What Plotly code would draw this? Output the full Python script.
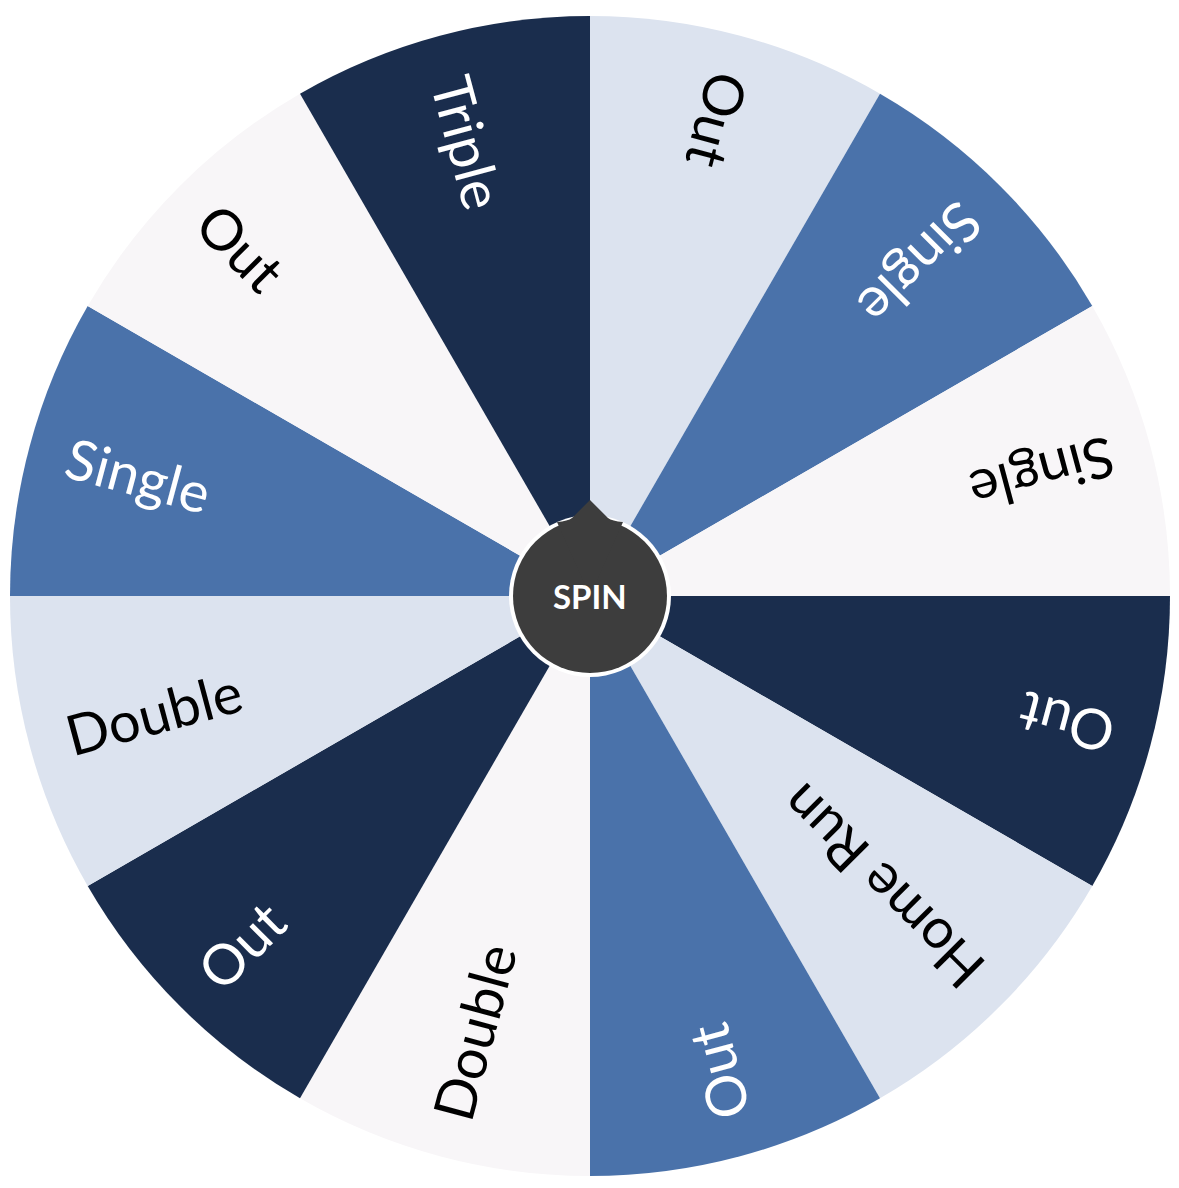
import math
import plotly.graph_objects as go

# the page body keeps its default 8px margin, so the figure is drawn 8px in
PAGE_W, PAGE_H, BODY = 1179, 1188, 8
W, H = PAGE_W - 2 * BODY, PAGE_H - 2 * BODY
cx, cy, R = 590 - BODY, 596 - BODY, 580      # wheel centre (px in figure) and radius

# slices clockwise from 12 o'clock, all the same size
outcomes = ["Out", "Single", "Single", "Out", "Home Run", "Out",
            "Double", "Out", "Double", "Single", "Out", "Triple"]
weights = [1, 1, 1, 1, 1, 1, 1, 1, 1, 1, 1, 1]
slice_colors = ["#dce3ef", "#4a72aa", "#f8f6f8", "#1a2d4d", "#dce3ef", "#4a72aa",
                "#f8f6f8", "#1a2d4d", "#dce3ef", "#4a72aa", "#f8f6f8", "#1a2d4d"]
text_on = {"#dce3ef": "black", "#f8f6f8": "black", "#4a72aa": "white", "#1a2d4d": "white"}

FONT = "Lato"
FSIZE = 56
# rough Lato regular advance widths (em) so labels can start at the rim
LATO_W = {"O": 0.78, "u": 0.55, "t": 0.35, "S": 0.52, "i": 0.24, "n": 0.55,
          "g": 0.51, "l": 0.24, "e": 0.52, "H": 0.75, "o": 0.56, "m": 0.83,
          "R": 0.61, "D": 0.73, "b": 0.56, "T": 0.58, "r": 0.37, "p": 0.56, " ": 0.19}


def text_width(s):
    return sum(LATO_W.get(ch, 0.55) for ch in s) * FSIZE


fig = go.Figure()
fig.add_trace(go.Pie(
    values=weights,
    marker=dict(colors=slice_colors, line=dict(width=0)),
    sort=False,
    direction="clockwise",
    rotation=0,
    textinfo="none",
    hovertext=outcomes,
    hoverinfo="text",
    showlegend=False,
    domain=dict(x=[(cx - R) / W, (cx + R) / W],
                y=[1 - (cy + R) / H, 1 - (cy - R) / H]),
))

# labels run from the rim towards the hub
step = 360 / sum(weights)
start = 0
for name, w, col in zip(outcomes, weights, slice_colors):
    theta = start + w * step / 2
    start += w * step
    r = 540 - text_width(name) / 2
    t = math.radians(theta)
    px = cx + r * math.sin(t)
    py = cy - r * math.cos(t)
    angle = ((theta + 90 + 180) % 360) - 180
    fig.add_annotation(
        x=px / W, y=1 - py / H, xref="paper", yref="paper",
        text=name, showarrow=False, textangle=angle,
        xanchor="center", yanchor="middle",
        font=dict(family=FONT, size=FSIZE, color=text_on[col]),
    )

# spin button with its pointer
anchor = dict(xref="paper", yref="paper", xsizemode="pixel", ysizemode="pixel",
              xanchor=cx / W, yanchor=1 - cy / H, layer="above")
fig.add_shape(type="circle", x0=-81, x1=81, y0=-81, y1=81,
              fillcolor="white", line=dict(width=0), **anchor)
fig.add_shape(type="circle", x0=-77, x1=77, y0=-77, y1=77,
              fillcolor="#3d3d3d", line=dict(width=0), **anchor)
fig.add_shape(type="path",
              path="M -33,74 Q -22,75 -18,78 L 0,96 L 18,78 Q 22,75 33,74 L 0,0 Z",
              fillcolor="#3d3d3d", line=dict(width=0), **anchor)
fig.add_annotation(
    x=cx / W, y=1 - cy / H, xref="paper", yref="paper",
    text="<b>SPIN</b>", showarrow=False, xanchor="center", yanchor="middle",
    font=dict(family=FONT, size=33, color="white"),
)

fig.update_layout(
    width=W, height=H,
    margin=dict(l=0, r=0, t=0, b=0),
    paper_bgcolor="white",
    plot_bgcolor="white",
)

fig.write_html("out.html")
